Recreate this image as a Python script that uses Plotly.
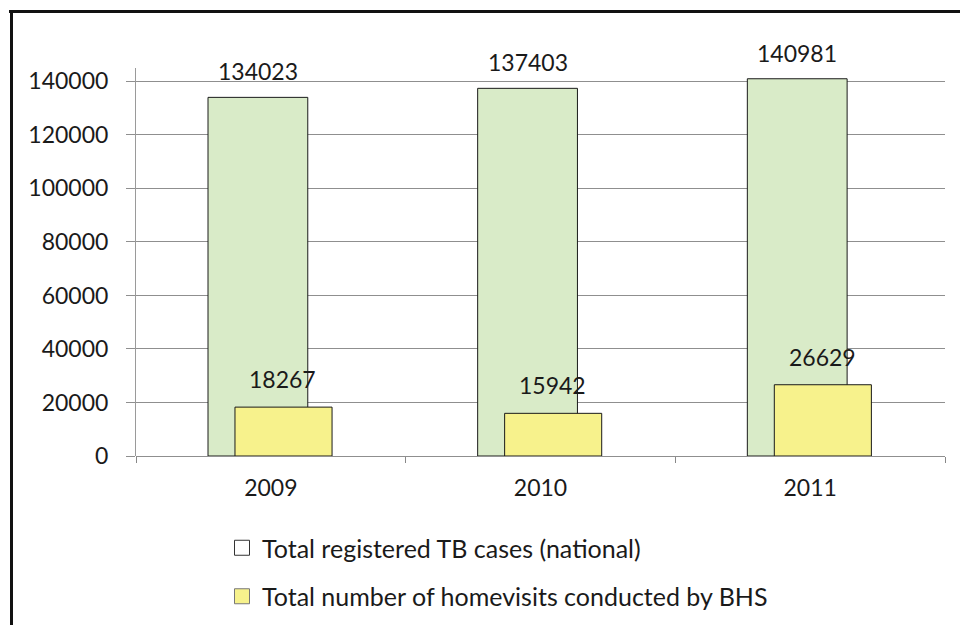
import plotly.graph_objects as go

years = ["2009", "2010", "2011"]
tb_cases = [134023, 137403, 140981]
home_visits = [18267, 15942, 26629]
series_names = ["Total registered TB cases (national)",
                "Total number of homevisits conducted by BHS"]
y_ticks = [0, 20000, 40000, 60000, 80000, 100000, 120000, 140000]

green = "#d9ebc8"
yellow = "#f7f28c"
font_family = "Lato, Open Sans, sans-serif"
txt_color = "#1a1a1a"
num_size = 23
legend_size = 25

# layout geometry (px)
W, H = 960, 625
L, R, T, B = 136, 15, 68, 169
plot_w = W - L - R
plot_h = H - T - B

fig = go.Figure()
fig.add_trace(go.Bar(
    x=years, y=tb_cases, name=series_names[0], width=0.37, offset=-0.233,
    marker=dict(color=green, line=dict(color="#1a1a1a", width=1)),
    showlegend=False,
))
fig.add_trace(go.Bar(
    x=years, y=home_visits, name=series_names[1], width=0.36, offset=-0.133,
    marker=dict(color=yellow, line=dict(color="#1a1a1a", width=1)),
    showlegend=False,
))
# legend entries
fig.add_trace(go.Scatter(
    x=[None], y=[None], mode="markers", name=series_names[0], legendgroup="a",
    marker=dict(symbol="square", size=15, color="white", line=dict(color="#333", width=1)),
))
fig.add_trace(go.Scatter(
    x=[None], y=[None], mode="markers", name=series_names[1], legendgroup="b",
    marker=dict(symbol="square", size=15, color=yellow, line=dict(color="#777", width=1)),
))

annotations = []
for i, v in enumerate(tb_cases):
    annotations.append(dict(x=i, y=v, xref="x", yref="y", text=str(v), showarrow=False,
                            xshift=-13, yshift=26, yanchor="middle", xanchor="center",
                            font=dict(size=num_size, family=font_family, color=txt_color)))
for i, v in enumerate(home_visits):
    annotations.append(dict(x=i, y=v, xref="x", yref="y", text=str(v), showarrow=False,
                            xshift=12, yshift=28, yanchor="middle", xanchor="center",
                            font=dict(size=num_size, family=font_family, color=txt_color)))

def px_x(px):
    return (px - L) / plot_w

def px_y(py):
    return (H - B - py) / plot_h

shapes = [
    dict(type="line", xref="paper", yref="paper", x0=px_x(9), x1=px_x(962),
         y0=px_y(11.5), y1=px_y(11.5), line=dict(color="#111", width=3)),
    dict(type="line", xref="paper", yref="paper", x0=px_x(11.5), x1=px_x(11.5),
         y0=px_y(10), y1=px_y(630), line=dict(color="#111", width=3)),
]

fig.update_layout(
    width=W, height=H,
    margin=dict(l=L, r=R, t=T, b=B, autoexpand=False),
    paper_bgcolor="white", plot_bgcolor="white",
    barmode="overlay",
    font=dict(family=font_family, size=num_size, color=txt_color),
    xaxis=dict(
        type="category", range=[-0.5, 2.5], tickson="boundaries", automargin=False,
        ticks="outside", ticklen=6, tickcolor="#888", showline=False,
        showgrid=False, tickfont=dict(size=num_size), ticklabelstandoff=16,
    ),
    yaxis=dict(
        range=[0, 145000], tickvals=y_ticks, ticktext=[str(t) for t in y_ticks],
        automargin=False,
        showgrid=True, gridcolor="#8f8f8f", gridwidth=1,
        showline=True, linecolor="#9a9a9a", linewidth=1,
        ticks="outside", ticklen=9, tickcolor="#8f8f8f",
        zeroline=True, zerolinecolor="#8f8f8f", zerolinewidth=1,
        tickfont=dict(size=num_size), ticklabelstandoff=13,
    ),
    legend=dict(
        x=px_x(222), y=px_y(525), xanchor="left", yanchor="top",
        font=dict(size=legend_size), tracegroupgap=13, bgcolor="rgba(0,0,0,0)",
        itemsizing="trace",
    ),
    annotations=annotations,
    shapes=shapes,
)

fig.write_html("out.html")
